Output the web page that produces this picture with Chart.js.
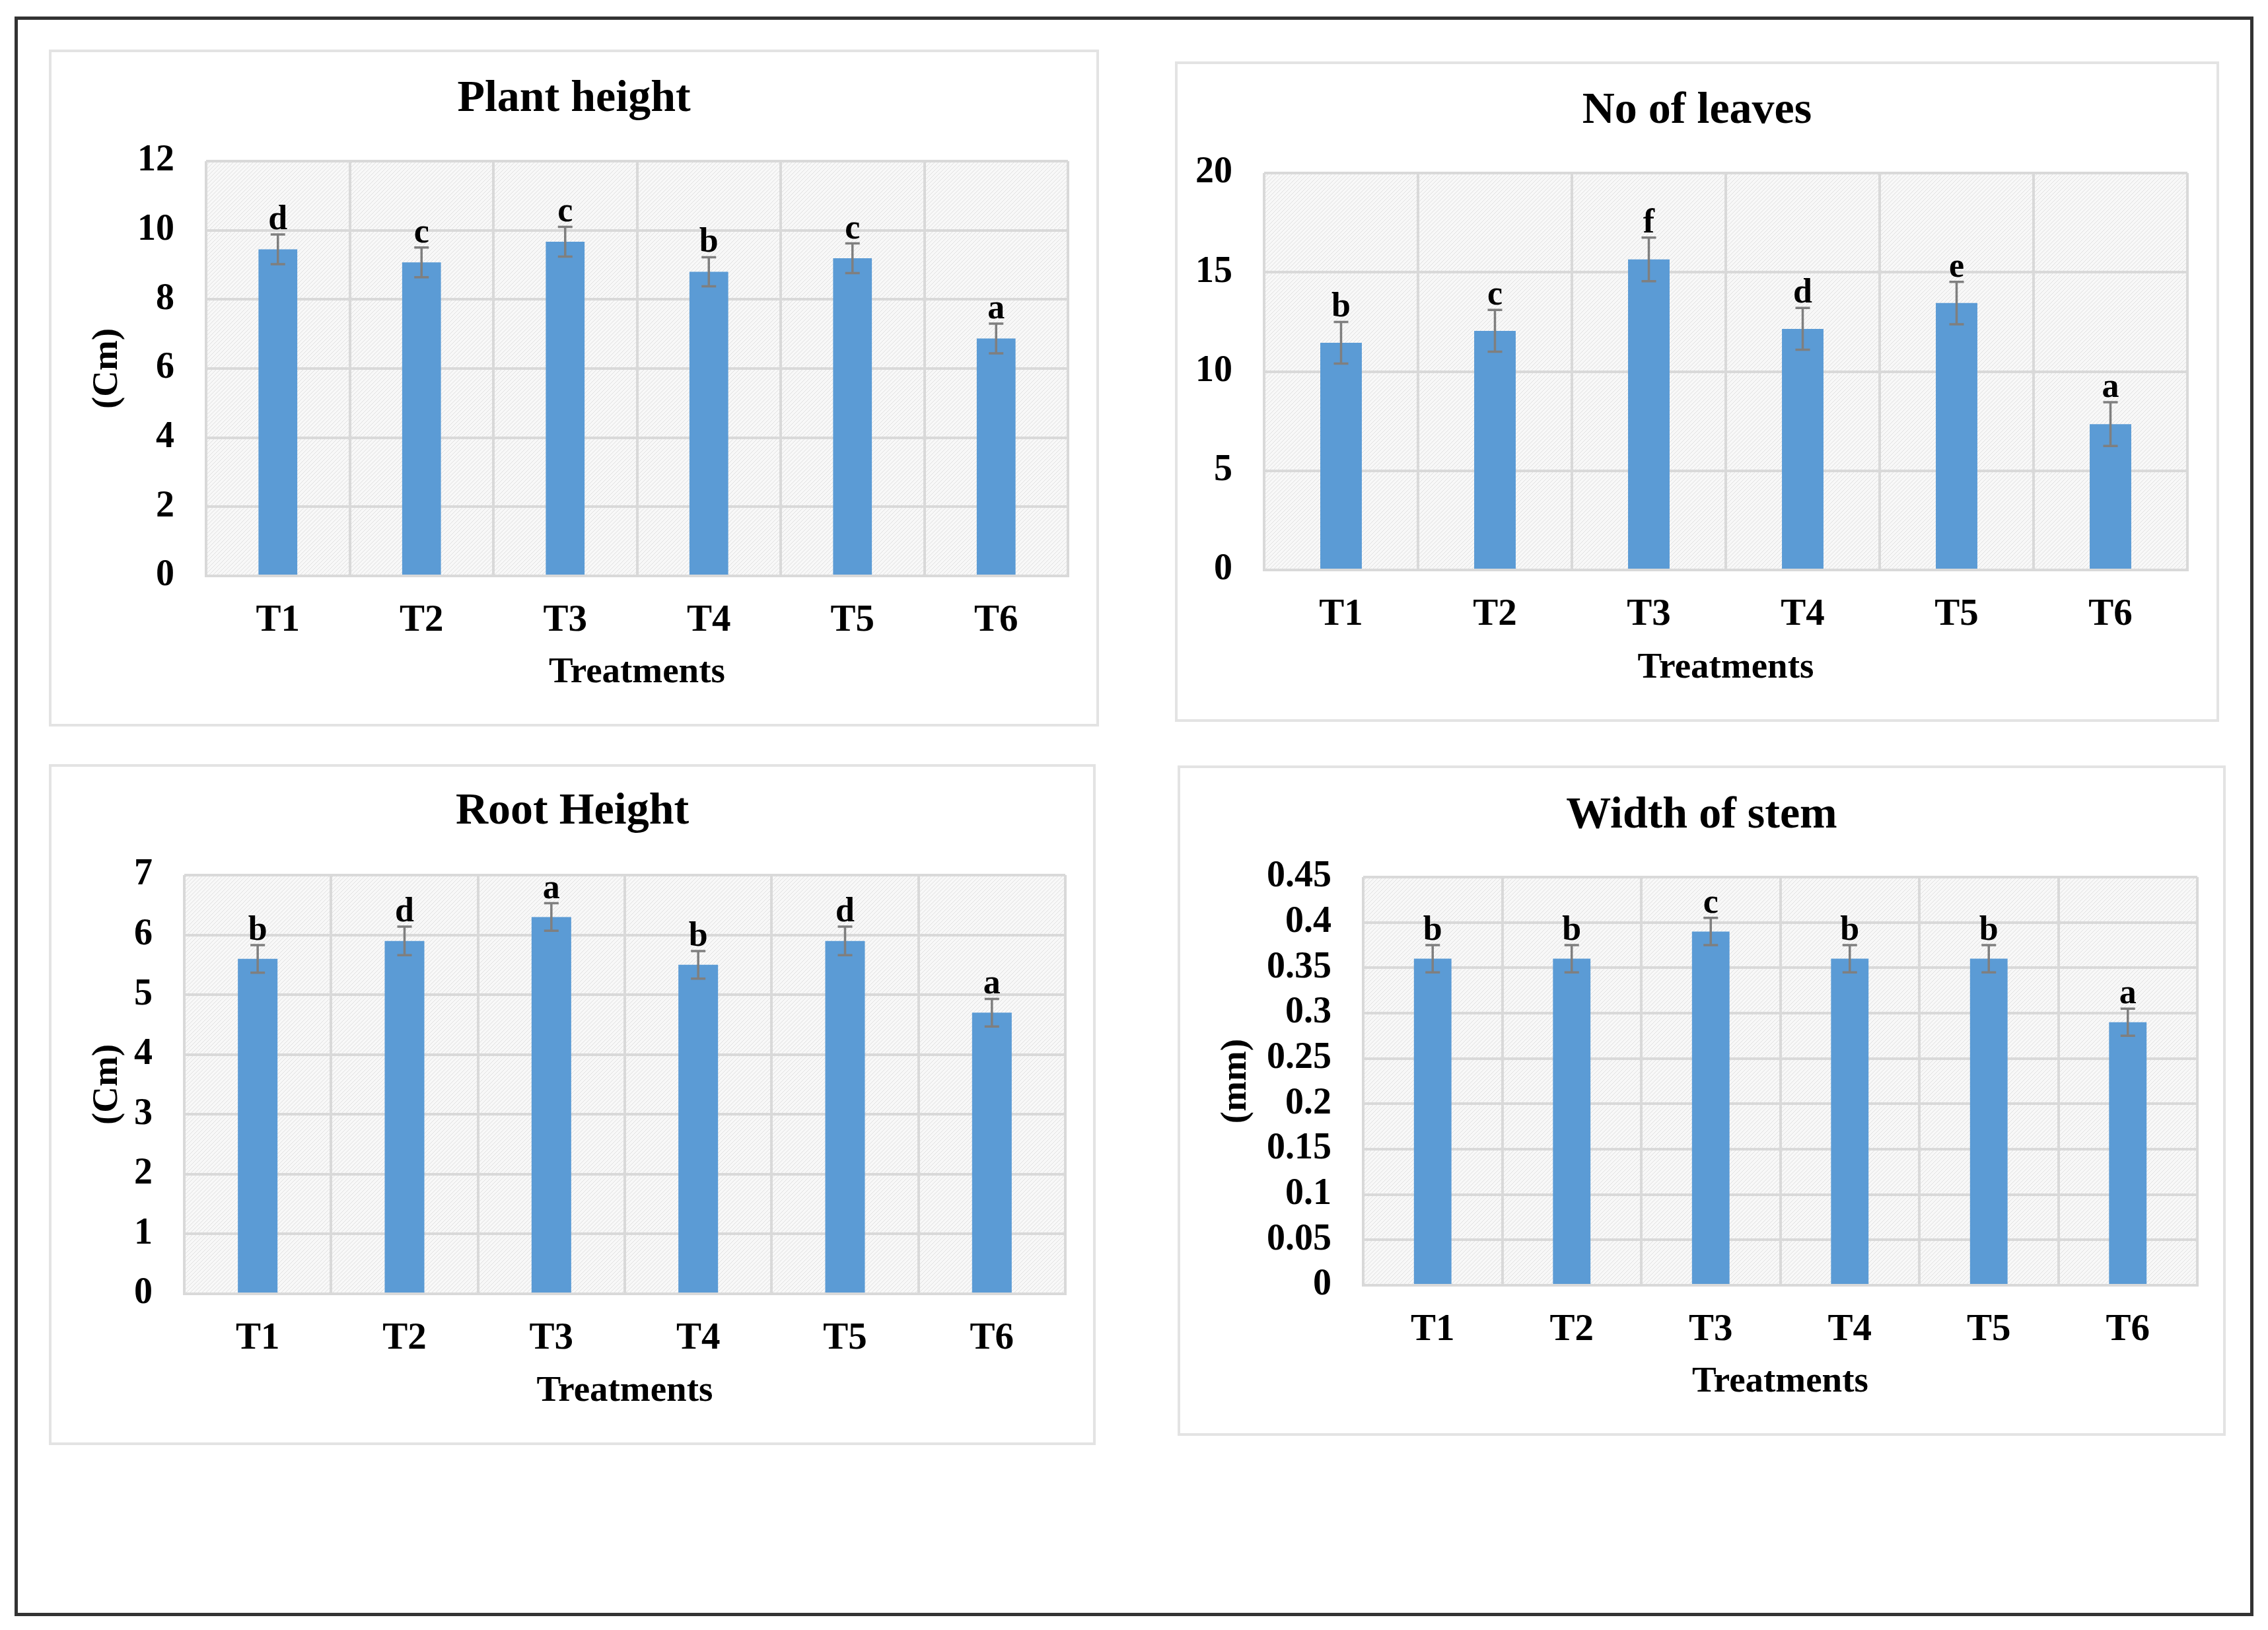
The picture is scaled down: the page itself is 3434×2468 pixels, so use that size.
<!DOCTYPE html>
<html>
<head>
<meta charset="utf-8">
<script src="https://cdn.jsdelivr.net/npm/chart.js@4.4.1/dist/chart.umd.min.js"></script>
<style>
  html, body { margin: 0; padding: 0; background: #fff; }
  body { width: 3434px; height: 2468px; position: relative; overflow: hidden; }
  #frame { position: absolute; left: 22px; top: 25px; width: 3380px; height: 2412px; border: 5px solid #333; }
  .panel { position: absolute; box-sizing: border-box; border: 4px solid #e3e3e3; background: #fff; }
  .panel canvas { position: absolute; left: -4px; top: -4px; }
</style>
</head>
<body>
<div id="frame"></div>
<div class="panel" id="p1" style="left:74px;top:75px;width:1590px;height:1025px"><canvas id="c1"></canvas></div>
<div class="panel" id="p2" style="left:1779px;top:93px;width:1581px;height:1000px"><canvas id="c2"></canvas></div>
<div class="panel" id="p3" style="left:74px;top:1157px;width:1585px;height:1031px"><canvas id="c3"></canvas></div>
<div class="panel" id="p4" style="left:1783px;top:1159px;width:1587px;height:1015px"><canvas id="c4"></canvas></div>
<script>
const categories = ['T1', 'T2', 'T3', 'T4', 'T5', 'T6'];

const plantHeight = [9.45, 9.07, 9.67, 8.8, 9.19, 6.87];
const plantHeightErr = [0.43, 0.43, 0.43, 0.42, 0.43, 0.43];
const plantHeightLetters = ['d', 'c', 'c', 'b', 'c', 'a'];
const plantHeightTicks = [0, 2, 4, 6, 8, 10, 12];

const leaves = [11.45, 12.05, 15.65, 12.15, 13.45, 7.35];
const leavesErr = [1.05, 1.05, 1.1, 1.05, 1.07, 1.1];
const leavesLetters = ['b', 'c', 'f', 'd', 'e', 'a'];
const leavesTicks = [0, 5, 10, 15, 20];

const rootHeight = [5.6, 5.9, 6.3, 5.5, 5.9, 4.7];
const rootHeightErr = [0.23, 0.24, 0.23, 0.23, 0.24, 0.23];
const rootHeightLetters = ['b', 'd', 'a', 'b', 'd', 'a'];
const rootHeightTicks = [0, 1, 2, 3, 4, 5, 6, 7];

const stemWidth = [0.36, 0.36, 0.39, 0.36, 0.36, 0.29];
const stemWidthErr = [0.015, 0.015, 0.015, 0.015, 0.015, 0.015];
const stemWidthLetters = ['b', 'b', 'c', 'b', 'b', 'a'];
const stemWidthTicks = [0, 0.05, 0.1, 0.15, 0.2, 0.25, 0.3, 0.35, 0.4, 0.45];

const FONT = '"Liberation Serif", "Times New Roman", serif';
const GRID = '#d9d9d9';

// hatched plot background
function makePattern(ctx) {
    const c = document.createElement('canvas');
    c.width = 6; c.height = 6;
    const g = c.getContext('2d');
    g.fillStyle = '#f8f8f8';
    g.fillRect(0, 0, 6, 6);
    g.strokeStyle = '#e0e0e0';
    g.lineWidth = 1;
    g.beginPath();
    g.moveTo(0, 6); g.lineTo(6, 0);
    g.moveTo(-3, 3); g.lineTo(3, -3);
    g.moveTo(3, 9); g.lineTo(9, 3);
    g.stroke();
    return ctx.createPattern(c, 'repeat');
}

const panelPlugin = {
    id: 'panelExtras',
    beforeDraw(chart) {
        const { ctx, chartArea: a } = chart;
        ctx.save();
        ctx.fillStyle = makePattern(ctx);
        ctx.fillRect(a.left, a.top, a.right - a.left, a.bottom - a.top);
        ctx.restore();
    },
    afterDatasetsDraw(chart, args, opts) {
        const { ctx } = chart;
        const y = chart.scales.y;
        const meta = chart.getDatasetMeta(0);
        const vals = chart.data.datasets[0].data;
        ctx.save();
        meta.data.forEach((bar, i) => {
            const top = y.getPixelForValue(vals[i] + opts.err[i]);
            const bot = y.getPixelForValue(vals[i] - opts.err[i]);
            ctx.strokeStyle = '#7f7f7f';
            ctx.lineWidth = 3.5;
            ctx.beginPath();
            ctx.moveTo(bar.x, top); ctx.lineTo(bar.x, bot);
            ctx.moveTo(bar.x - 11, top); ctx.lineTo(bar.x + 11, top);
            ctx.moveTo(bar.x - 11, bot); ctx.lineTo(bar.x + 11, bot);
            ctx.stroke();
            ctx.fillStyle = '#000';
            ctx.font = 'bold 52px ' + FONT;
            ctx.textAlign = 'center';
            ctx.textBaseline = 'alphabetic';
            ctx.fillText(opts.letters[i], bar.x, top - 8);
        });
        ctx.restore();
    },
    afterDraw(chart, args, opts) {
        const { ctx } = chart;
        ctx.save();
        ctx.fillStyle = '#000';
        ctx.font = 'bold 68px ' + FONT;
        ctx.textAlign = 'center';
        ctx.textBaseline = 'middle';
        ctx.fillText(opts.title, chart.width / 2, opts.titleY);
        ctx.restore();
    }
};

function makeChart(id, panelId, values, err, letters, tickValues, opts) {
    const panel = document.getElementById(panelId);
    const canvas = document.getElementById(id);
    const w = panel.offsetWidth, h = panel.offsetHeight;
    canvas.width = w; canvas.height = h;
    canvas.style.width = w + 'px'; canvas.style.height = h + 'px';
    new Chart(canvas.getContext('2d'), {
        type: 'bar',
        data: {
            labels: categories,
            datasets: [{
                data: values,
                backgroundColor: '#5b9bd5',
                barPercentage: 0.27,
                categoryPercentage: 1
            }]
        },
        options: {
            responsive: false,
            animation: false,
            devicePixelRatio: 1,
            layout: { padding: { top: opts.inset.t, right: opts.inset.r, left: 0, bottom: 0 } },
            plugins: {
                legend: { display: false },
                tooltip: { enabled: false },
                panelExtras: { err: err, letters: letters, title: opts.title, titleY: opts.titleY }
            },
            scales: {
                x: {
                    afterFit: s => { s.height = opts.inset.b; },
                    grid: { color: GRID, lineWidth: 4, drawTicks: false },
                    border: { color: GRID, width: 4 },
                    ticks: { color: '#000', padding: 34, font: { family: FONT, size: 57, weight: 'bold' } },
                    title: {
                        display: true, text: 'Treatments', color: '#000',
                        padding: { top: 0, bottom: 48 },
                        font: { family: FONT, size: 55, weight: 'bold' }
                    }
                },
                y: {
                    min: tickValues[0], max: tickValues[tickValues.length - 1],
                    afterFit: s => { s.width = opts.inset.l; },
                    afterBuildTicks: s => { s.ticks = tickValues.map(v => ({ value: v })); },
                    grid: { color: GRID, lineWidth: 4, drawTicks: false },
                    border: { display: false },
                    ticks: {
                        autoSkip: false, color: '#000', padding: 48,
                        font: { family: FONT, size: 56, weight: 'bold' },
                        callback: v => String(Number(v.toFixed(2)))
                    },
                    title: {
                        display: !!opts.yTitle, text: opts.yTitle || '', color: '#000',
                        padding: { top: 56, bottom: 0 },
                        font: { family: FONT, size: 55, weight: 'bold' }
                    }
                }
            }
        },
        plugins: [panelPlugin]
    });
}

makeChart('c1', 'p1', plantHeight, plantHeightErr, plantHeightLetters, plantHeightTicks,
    { title: 'Plant height', titleY: 75, yTitle: '(Cm)', inset: { l: 238, t: 169, r: 47, b: 228 } });
makeChart('c2', 'p2', leaves, leavesErr, leavesLetters, leavesTicks,
    { title: 'No of leaves', titleY: 75, yTitle: '', inset: { l: 135, t: 169, r: 48, b: 230 } });
makeChart('c3', 'p3', rootHeight, rootHeightErr, rootHeightLetters, rootHeightTicks,
    { title: 'Root Height', titleY: 72, yTitle: '(Cm)', inset: { l: 205, t: 168, r: 46, b: 229 } });
makeChart('c4', 'p4', stemWidth, stemWidthErr, stemWidthLetters, stemWidthTicks,
    { title: 'Width of stem', titleY: 76, yTitle: '(mm)', inset: { l: 281, t: 169, r: 43, b: 228 } });
</script>
</body>
</html>
